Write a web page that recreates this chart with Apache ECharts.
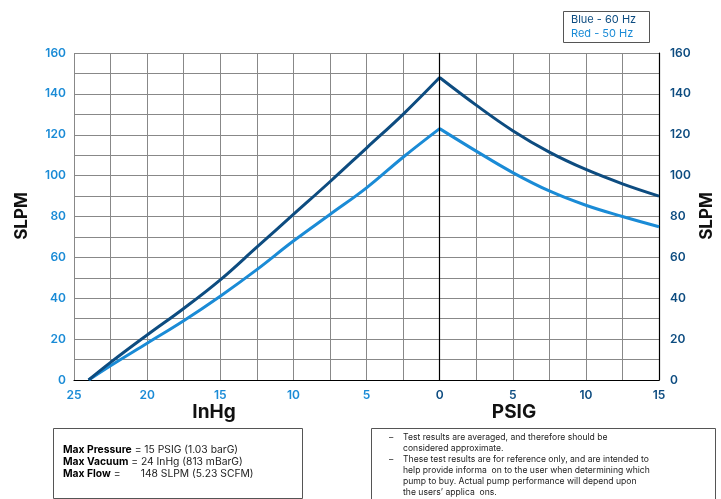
<!DOCTYPE html>
<html>
<head>
<meta charset="utf-8">
<script src="https://cdn.jsdelivr.net/npm/echarts@6/dist/echarts.min.js"></script>
<style>
html,body{margin:0;padding:0;background:#fff;}
#chart{width:721px;height:499px;}
</style>
</head>
<body>
<div id="chart"></div>
<script>
// Data (negative x = vacuum InHg, positive x = pressure PSIG)
const pressurePoints = [-24, -22.5, -20, -17.5, -15, -12.5, -10, -7.5, -5, -2.5, 0, 2.5, 5, 7.5, 10, 12.5, 15];
const flow60Hz = [0, 8.6, 22, 35, 49, 65, 81, 97, 113.5, 130, 148, 134.5, 122, 111.5, 103, 96, 90];
const flow50Hz = [0, 7, 18, 29, 41, 54, 68, 81, 94, 109, 123, 112, 101.5, 92.5, 85.5, 80, 75];
const seriesNames = ['Blue - 60 Hz', 'Red - 50 Hz'];
const yTickLabels = [0, 20, 40, 60, 80, 100, 120, 140, 160];
const xTickLabels = [-25, -20, -15, -10, -5, 0, 5, 10, 15];
const infoLeft = [
  ['Max Pressure', ' = 15 PSIG (1.03 barG)'],
  ['Max Vacuum', ' = 24 InHg (813 mBarG)'],
  ['Max Flow', ' =       148 SLPM (5.23 SCFM)']
];
const infoRight = [
  ['–', 'Test results are averaged, and therefore should be'],
  ['', 'considered approximate.'],
  ['–', 'These test results are for reference only, and are intended to'],
  ['', 'help provide informa  on to the user when determining which'],
  ['', 'pump to buy. Actual pump performance will depend upon'],
  ['', 'the users\u2019 applica  ons.']
];

const DARK = '#0d4c80';
const LIGHT = '#1a8bd6';
const FONT = 'Inter, "Open Sans", sans-serif';

const zeroIdx = pressurePoints.indexOf(0);
const pair = arr => pressurePoints.map((x, i) => [x, arr[i]]);
const vacSide = arr => pair(arr).slice(0, zeroIdx + 1);
const presSide = arr => pair(arr).slice(zeroIdx);

const chart = echarts.init(document.getElementById('chart'));

const graphic = [];
// Axis titles
graphic.push({type:'text', x:22, y:216, rotation:Math.PI/2, style:{text:'SLPM', font:'bold 17px ' + FONT, fill:'#111', align:'center', verticalAlign:'middle'}});
graphic.push({type:'text', x:707, y:216, rotation:Math.PI/2, style:{text:'SLPM', font:'bold 17px ' + FONT, fill:'#111', align:'center', verticalAlign:'middle'}});
graphic.push({type:'text', x:214, y:412, style:{text:'InHg', font:'bold 19px ' + FONT, fill:'#111', align:'center', verticalAlign:'middle'}});
graphic.push({type:'text', x:514, y:412, style:{text:'PSIG', font:'bold 19px ' + FONT, fill:'#111', align:'center', verticalAlign:'middle'}});
// Legend box
graphic.push({type:'rect', shape:{x:563.5, y:11.5, width:86, height:31}, style:{fill:'#fff', stroke:'#555', lineWidth:1}});
graphic.push({type:'text', x:571, y:20, style:{text:seriesNames[0], font:'11px ' + FONT, fill:DARK, verticalAlign:'middle'}});
graphic.push({type:'text', x:571, y:34, style:{text:seriesNames[1], font:'11px ' + FONT, fill:LIGHT, verticalAlign:'middle'}});
// Bottom info boxes
graphic.push({type:'rect', shape:{x:53.5, y:428.5, width:249, height:70}, style:{fill:'none', stroke:'#555', lineWidth:1}});
infoLeft.forEach((row, i) => {
  graphic.push({type:'text', x:63, y:450 + i * 11.8, style:{
    text:'{b|' + row[0] + '}{n|' + row[1] + '}',
    rich:{b:{font:'bold 10.3px ' + FONT, fill:'#000'}, n:{font:'10.3px ' + FONT, fill:'#222'}},
    verticalAlign:'middle'}});
});
graphic.push({type:'rect', shape:{x:371.5, y:428.5, width:344, height:75}, style:{fill:'none', stroke:'#555', lineWidth:1}});
infoRight.forEach((row, i) => {
  const y = 437 + i * 11;
  if (row[0]) graphic.push({type:'text', x:389, y:y, style:{text:row[0], font:'8.6px ' + FONT, fill:'#222', verticalAlign:'middle'}});
  graphic.push({type:'text', x:403, y:y, style:{text:row[1], font:'8.6px ' + FONT, fill:'#222', verticalAlign:'middle'}});
});

const lineSeries = (name, data, color, z) => ({
  name:name, type:'line', data:data, showSymbol:false, smooth:0.4,
  lineStyle:{color:color, width:3}, itemStyle:{color:color}, z:z
});

const s0 = lineSeries(seriesNames[1], vacSide(flow50Hz), LIGHT, 3);
s0.markLine = {silent:true, symbol:'none', label:{show:false},
  lineStyle:{color:'#000', width:1.2, type:'solid'}, data:[{xAxis:0}]};

const option = {
  backgroundColor:'#fff',
  animation:false,
  grid:{left:74, right:62, top:53, bottom:119},
  xAxis:{
    type:'value', min:-25, max:15, interval:2.5,
    axisLine:{show:true, onZero:false, lineStyle:{color:'#000', width:1.2}},
    axisTick:{show:false},
    splitLine:{show:true, lineStyle:{color:'#888', width:1}},
    axisLabel:{
      margin:9,
      formatter:v => {
        if (!xTickLabels.includes(v)) return '';
        return v < 0 ? '{l|' + Math.abs(v) + '}' : '{r|' + v + '}';
      },
      rich:{
        l:{color:LIGHT, fontFamily:FONT, fontWeight:600, fontSize:12},
        r:{color:DARK, fontFamily:FONT, fontWeight:600, fontSize:12}
      }
    }
  },
  yAxis:[{
    type:'value', min:0, max:160, interval:10, position:'left',
    axisLine:{show:true, lineStyle:{color:'#888', width:1}},
    axisTick:{show:false},
    splitLine:{show:true, lineStyle:{color:'#888', width:1}},
    axisLabel:{margin:8, color:LIGHT, fontFamily:FONT, fontWeight:600, fontSize:12,
      formatter:v => yTickLabels.includes(v) ? String(v) : ''}
  },{
    type:'value', min:0, max:160, interval:10, position:'right',
    axisLine:{show:true, lineStyle:{color:'#000', width:1.2}},
    axisTick:{show:false},
    splitLine:{show:false},
    axisLabel:{margin:11, color:DARK, fontFamily:FONT, fontWeight:600, fontSize:12,
      formatter:v => yTickLabels.includes(v) ? String(v) : ''}
  }],
  series:[
    s0,
    lineSeries(seriesNames[1], presSide(flow50Hz), LIGHT, 3),
    lineSeries(seriesNames[0], vacSide(flow60Hz), DARK, 4),
    lineSeries(seriesNames[0], presSide(flow60Hz), DARK, 4)
  ],
  graphic:graphic
};
chart.setOption(option);
</script>
</body>
</html>
